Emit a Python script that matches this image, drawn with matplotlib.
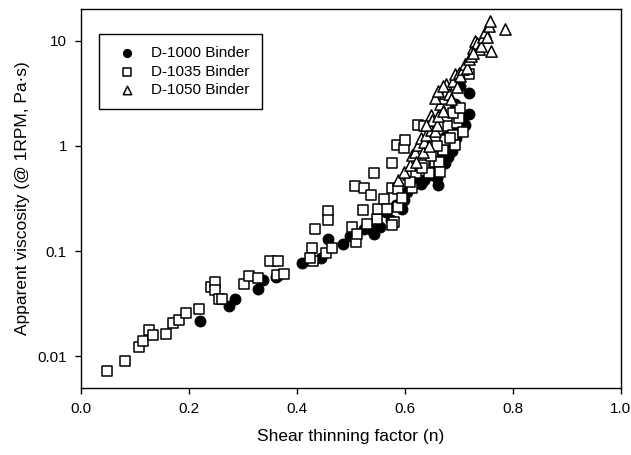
import numpy as np
import matplotlib
matplotlib.use('Agg')
import matplotlib.pyplot as plt

plt.rcParams['font.family'] = ['Liberation Sans', 'DejaVu Sans']

# D-1000 binder (filled circles)
n_1000 = [0.221, 0.275, 0.285, 0.329, 0.338, 0.361, 0.409, 0.444, 0.458, 0.486,
          0.498, 0.525, 0.532, 0.543, 0.554, 0.557, 0.566, 0.584, 0.595, 0.599,
          0.604, 0.614, 0.625, 0.636, 0.644, 0.648, 0.662, 0.666, 0.670, 0.674,
          0.677, 0.681, 0.685, 0.689, 0.692, 0.698, 0.707, 0.711, 0.718, 0.718,
          0.703, 0.674, 0.540, 0.575, 0.610, 0.630, 0.655, 0.680, 0.695, 0.700,
          0.688, 0.660]
v_1000 = [0.0217, 0.030, 0.035, 0.044, 0.053, 0.057, 0.078, 0.086, 0.131, 0.116,
          0.141, 0.164, 0.176, 0.147, 0.17, 0.254, 0.234, 0.274, 0.254, 0.306,
          0.367, 0.425, 0.474, 0.474, 0.53, 0.61, 0.43, 0.82, 0.74, 0.686,
          0.95, 1.1, 1.38, 1.6, 2.48, 2.06, 1.65, 1.6, 2.03, 3.2,
          3.7, 1.23, 0.16, 0.2, 0.4, 0.44, 0.58, 0.78, 1.2, 1.45,
          0.9, 0.5]

# D-1035 binder (open squares)
n_1035 = [0.048, 0.081, 0.107, 0.115, 0.126, 0.133, 0.158, 0.171, 0.182, 0.195,
          0.218, 0.241, 0.249, 0.249, 0.256, 0.262, 0.303, 0.312, 0.329, 0.351,
          0.366, 0.363, 0.377, 0.428, 0.430, 0.424, 0.434, 0.458, 0.458, 0.454,
          0.465, 0.502, 0.510, 0.507, 0.525, 0.537, 0.523, 0.543, 0.548, 0.550,
          0.562, 0.567, 0.577, 0.577, 0.579, 0.577, 0.586, 0.599, 0.601, 0.588,
          0.588, 0.594, 0.605, 0.614, 0.621, 0.625, 0.636, 0.629, 0.636, 0.644,
          0.653, 0.655, 0.664, 0.666, 0.670, 0.674, 0.679, 0.689, 0.692, 0.696,
          0.700, 0.707, 0.689, 0.718, 0.610, 0.632, 0.648, 0.660, 0.683, 0.703,
          0.512, 0.530]
v_1035 = [0.0072, 0.0091, 0.0122, 0.014, 0.018, 0.016, 0.0165, 0.021, 0.022, 0.0257,
          0.028, 0.046, 0.051, 0.043, 0.035, 0.035, 0.049, 0.058, 0.056, 0.081,
          0.081, 0.059, 0.061, 0.107, 0.081, 0.086, 0.164, 0.24, 0.2, 0.096,
          0.107, 0.17, 0.122, 0.416, 0.40, 0.34, 0.249, 0.55, 0.204, 0.254,
          0.316, 0.254, 0.686, 0.395, 0.19, 0.176, 1.03, 0.95, 1.15, 0.39,
          0.264, 0.32, 0.53, 0.395, 0.55, 1.6, 1.54, 0.9, 0.66, 0.55,
          0.87, 0.71, 0.70, 0.57, 0.92, 1.15, 1.54, 1.28, 1.03, 1.65,
          1.85, 1.36, 2.06, 4.8, 0.45, 0.62, 0.8, 1.0, 1.2, 2.3,
          0.145, 0.18]

# D-1050 binder (open triangles)
n_1050 = [0.588, 0.599, 0.609, 0.614, 0.618, 0.621, 0.625, 0.629, 0.633, 0.636,
          0.640, 0.644, 0.648, 0.648, 0.651, 0.655, 0.659, 0.662, 0.666, 0.670,
          0.670, 0.674, 0.677, 0.681, 0.685, 0.689, 0.692, 0.700, 0.703, 0.707,
          0.711, 0.715, 0.718, 0.722, 0.726, 0.730, 0.733, 0.737, 0.741, 0.744,
          0.748, 0.752, 0.756, 0.758, 0.759, 0.785, 0.726, 0.696, 0.640, 0.655,
          0.662, 0.670]
v_1050 = [0.47, 0.57, 0.66, 0.82, 0.885, 0.71, 1.03, 1.19, 0.885, 1.1,
          1.28, 0.99, 1.43, 1.99, 1.78, 1.38, 1.6, 1.91, 2.48, 2.87,
          2.14, 3.2, 3.85, 3.09, 2.77, 4.14, 4.8, 4.98, 4.6, 5.36,
          6.0, 5.56, 6.7, 7.2, 8.6, 10.0, 9.6, 8.3, 9.0, 10.8,
          12.0, 10.8, 13.9, 15.5, 8.0, 12.9, 7.7, 3.6, 1.6, 2.87,
          3.3, 3.7]

fig = plt.figure(figsize=(6.31, 4.55), dpi=100)
ax = fig.add_axes([0.128, 0.147, 0.856, 0.833])

ax.scatter(n_1000, v_1000, s=60, marker='o', facecolor='black', edgecolor='black',
           linewidths=0.8, label='D-1000 Binder', zorder=2)
ax.scatter(n_1035, v_1035, s=55, marker='s', facecolor='white', edgecolor='black',
           linewidths=1.1, label='D-1035 Binder', zorder=3)
ax.scatter(n_1050, v_1050, s=65, marker='^', facecolor='white', edgecolor='black',
           linewidths=1.1, label='D-1050 Binder', zorder=4)

ax.set_yscale('log')
ax.set_xlim(0, 1.0)
ax.set_ylim(0.005, 20)
ax.set_xticks([0.0, 0.2, 0.4, 0.6, 0.8, 1.0])
ax.set_xticklabels(['0.0', '0.2', '0.4', '0.6', '0.8', '1.0'])
ax.set_yticks([0.01, 0.1, 1, 10])
ax.set_yticklabels(['0.01', '0.1', '1', '10'])
ax.minorticks_off()
ax.tick_params(direction='out', length=4, width=1, labelsize=11, pad=6)
for sp in ax.spines.values():
    sp.set_linewidth(1.0)

ax.set_xlabel('Shear thinning factor (n)', fontsize=12.5, labelpad=9)
ax.set_ylabel('Apparent viscosity (@ 1RPM, Pa\u00b7s)', fontsize=12.5, labelpad=5)

leg = ax.legend(loc='upper left', bbox_to_anchor=(0.02, 0.955), fontsize=11,
                frameon=True, fancybox=False, edgecolor='black', framealpha=1,
                markerscale=0.75, handletextpad=0.6, borderpad=0.8, labelspacing=0.3)
leg.get_frame().set_linewidth(1.0)

fig.savefig('out.png', dpi=100)
